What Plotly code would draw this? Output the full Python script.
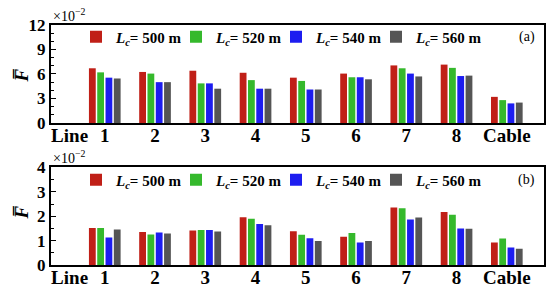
import plotly.graph_objects as go

# Datos (valores en unidades de 10^-2)
categorias = ["1", "2", "3", "4", "5", "6", "7", "8", "Cable"]
series = ["500", "520", "540", "560"]

f_a = {
    "500": [6.7, 6.25, 6.4, 6.15, 5.55, 6.05, 7.05, 7.15, 3.2],
    "520": [6.2, 6.05, 4.85, 5.25, 5.15, 5.6, 6.7, 6.75, 2.8],
    "540": [5.55, 5.0, 4.85, 4.2, 4.1, 5.6, 6.05, 5.75, 2.4],
    "560": [5.45, 5.0, 4.2, 4.2, 4.1, 5.35, 5.7, 5.8, 2.5],
}
f_b = {
    "500": [1.52, 1.35, 1.41, 1.96, 1.38, 1.16, 2.36, 2.17, 0.92],
    "520": [1.52, 1.25, 1.44, 1.90, 1.24, 1.31, 2.33, 2.06, 1.09],
    "540": [1.13, 1.33, 1.44, 1.68, 1.10, 0.92, 1.87, 1.50, 0.72],
    "560": [1.46, 1.29, 1.37, 1.63, 0.98, 0.98, 1.95, 1.49, 0.67],
}

colores = {"500": "#c01f17", "520": "#35b92c", "540": "#1d1df0", "560": "#555555"}
fuente = "Liberation Serif"

x_pos = list(range(len(categorias)))

# posicion (px) del cuadrito de color de cada leyenda
centro_simbolo = {"500": 96, "520": 196, "540": 296, "560": 396}

fig = go.Figure()
leyendas = {}
n = 1
for panel, datos, xa, ya, yc in [("a", f_a, "x", "y", 37), ("b", f_b, "x2", "y2", 180)]:
    for s in series:
        nombre_ley = "legend" if n == 1 else "legend%d" % n
        fig.add_trace(go.Bar(x=x_pos, y=datos[s],
                             name="<i>L</i><sub><i>c</i></sub>= " + s + " m",
                             marker_color=colores[s], marker_line_width=0,
                             xaxis=xa, yaxis=ya, legend=nombre_ley))
        leyendas[nombre_ley] = dict(
            x=(centro_simbolo[s] - 20 - 51) / 493, y=1 - yc / 292,
            xanchor="left", yanchor="middle", bgcolor="rgba(0,0,0,0)",
            font=dict(family=fuente, size=15, color="black", weight="bold"),
            itemwidth=30)
        n += 1

ticks_x = [-0.7] + x_pos
texto_x = ["Line"] + categorias

eje_x = dict(range=[-1.07, 8.74], tickvals=ticks_x, ticktext=texto_x, ticks="",
             ticklabelstandoff=-6,
             showline=True, linecolor="black", linewidth=2, mirror=True,
             tickfont=dict(family=fuente, size=19, color="black", weight="bold"),
             showgrid=False, zeroline=False)
eje_y = dict(showline=True, linecolor="black", linewidth=2, mirror=True,
             ticks="inside", ticklen=5, tickwidth=1, tickcolor="black",
             tickfont=dict(family=fuente, size=17, color="black", weight="bold"),
             showgrid=False, zeroline=False)

fig.update_layout(
    width=550, height=292,
    margin=dict(l=51, r=6, t=0, b=0, autoexpand=False),
    paper_bgcolor="white", plot_bgcolor="white",
    barmode="group", bargap=0.34, bargroupgap=0.18,
    xaxis=dict(eje_x, domain=[0, 1], anchor="y"),
    yaxis=dict(eje_y, domain=[0.5788, 0.9144], range=[0, 12], dtick=3,
               minor=dict(dtick=1, ticks="inside", ticklen=3, tickcolor="black"), anchor="x"),
    xaxis2=dict(eje_x, domain=[0, 1], anchor="y2"),
    yaxis2=dict(eje_y, domain=[0.0925, 0.4264], range=[0, 4], dtick=1,
                minor=dict(dtick=0.5, ticks="inside", ticklen=3, tickcolor="black"), anchor="x2"),
    showlegend=True,
    **leyendas,
)

anotaciones = [
    dict(text="×10<sup>−2</sup>", x=0.0, y=1 - 15 / 292, xanchor="left", yanchor="middle",
         font=dict(family=fuente, size=14, color="black")),
    dict(text="×10<sup>−2</sup>", x=0.0, y=1 - 157 / 292, xanchor="left", yanchor="middle",
         font=dict(family=fuente, size=14, color="black")),
    dict(text="(a)", x=0.985, y=1 - 37 / 292, xanchor="right", yanchor="middle",
         font=dict(family=fuente, size=14, color="black")),
    dict(text="(b)", x=0.985, y=1 - 180 / 292, xanchor="right", yanchor="middle",
         font=dict(family=fuente, size=14, color="black")),
    dict(text="<i>F\u0305</i>", x=-0.06, y=1 - 75 / 292, textangle=-90,
         xanchor="center", yanchor="middle",
         font=dict(family=fuente, size=19, color="black", weight="bold")),
    dict(text="<i>F\u0305</i>", x=-0.06, y=1 - 212 / 292, textangle=-90,
         xanchor="center", yanchor="middle",
         font=dict(family=fuente, size=19, color="black", weight="bold")),
]
for a in anotaciones:
    fig.add_annotation(a, xref="paper", yref="paper", showarrow=False)

# quitar el margen del body para que la figura empiece en (0, 0)
fig.write_html("out.html", config={"displayModeBar": False},
               post_script="document.body.style.margin='0px';")
